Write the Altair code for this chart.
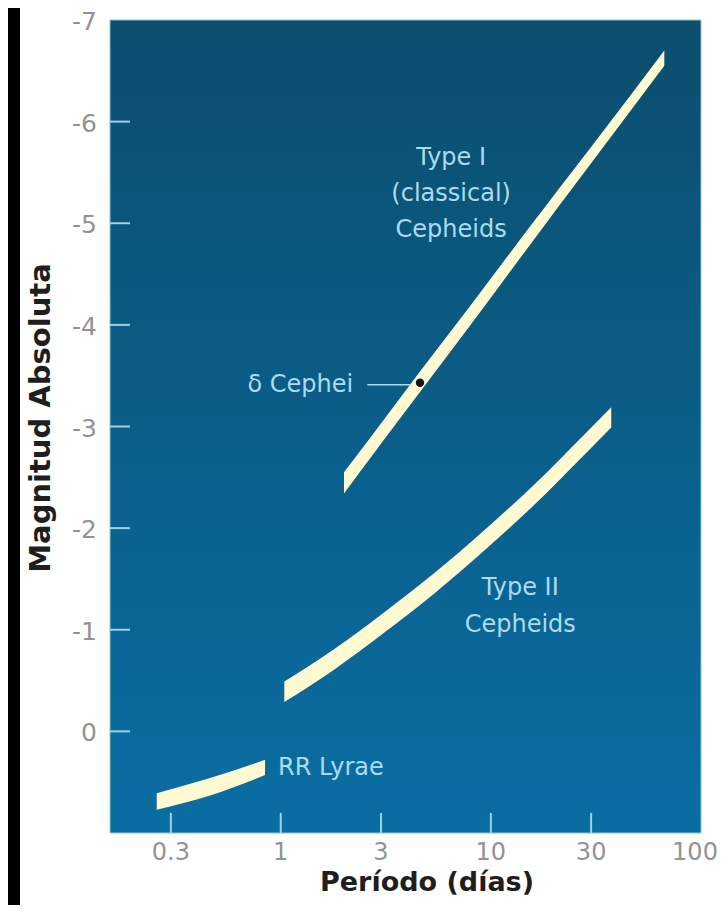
import altair as alt
import pandas as pd

# ---------------- data ----------------
# Type I (classical) Cepheids band: period (days), bright edge, faint edge (abs. mag)
t1_period = [2.0, 3.0, 4.6, 8.0, 15.0, 30.0, 66.9]
t1_bright = [-2.55, -3.03, -3.54, -4.19, -4.94, -5.75, -6.70]
t1_faint = [-2.34, -2.83, -3.34, -4.00, -4.76, -5.59, -6.55]

# Type II Cepheids band
t2_period = [1.04, 1.8, 3.1, 5.4, 9.3, 16.1, 27.8, 37.4]
t2_bright = [-0.49, -0.81, -1.17, -1.56, -1.98, -2.43, -2.92, -3.19]
t2_faint = [-0.29, -0.61, -0.97, -1.36, -1.78, -2.23, -2.72, -2.99]

# RR Lyrae band
rr_period = [0.257, 0.461, 0.842]
rr_bright = [0.61, 0.46, 0.28]
rr_faint = [0.77, 0.63, 0.43]

# delta Cephei marker and its leader line
dcep_period = [4.6]
dcep_mag = [-3.43]
leader_from = [2.58]
leader_to = [4.13]
leader_mag = [-3.41]

# annotation texts
center_labels = ["Type I", "(classical)", "Cepheids", "Type II", "Cepheids"]
center_period = [6.47, 6.47, 6.47, 13.8, 13.8]
center_mag = [-5.575, -5.22, -4.866, -1.343, -0.978]

right_labels = ["\u03b4 Cephei"]
right_period = [2.21]
right_mag = [-3.34]

left_labels = ["RR Lyrae"]
left_period = [0.971]
left_mag = [0.429]

# axes
x_ticks = [0.3, 1, 3, 10, 30, 100]
x_tick_labels = ["0.3", "1", "3", "10", "30", "100"]
x_inner_ticks = [0.3, 1, 3, 10, 30]
y_ticks = [-7, -6, -5, -4, -3, -2, -1, 0]
y_tick_labels = ["-7", "-6", "-5", "-4", "-3", "-2", "-1", "0"]
y_inner_ticks = [-6, -5, -4, -3, -2, -1, 0]
x_title = "Período (días)"
y_title = "Magnitud Absoluta"

# ---------------- styling ----------------
W, H = 591, 813
CREAM = "#fffad2"
TXT = "#abdbef"
TICK = "#9fd2ea"
LABEL_GRAY = "#939393"
TITLE = "#1e1e1e"
FONT = "DejaVu Sans"

xscale = alt.Scale(type="log", domain=[0.154, 100], nice=False)
yscale = alt.Scale(domain=[-7, 1], reverse=True, nice=False, zero=False)


def X(field):
    return alt.X(field, scale=xscale, axis=None)


def Y(field):
    return alt.Y(field, scale=yscale, axis=None)


one = pd.DataFrame({"k": [0]})

# black strip at the left edge of the page (the rest of the page is white)
strip = alt.Chart(one).mark_rect(color="black").encode(
    x=alt.value(-110), x2=alt.value(-90), y=alt.value(-20), y2=alt.value(900)
)

grad = alt.LinearGradient(
    gradient="linear", x1=0, x2=0, y1=0, y2=1,
    stops=[alt.GradientStop(color="#0b4e6e", offset=0),
           alt.GradientStop(color="#0a6ea3", offset=1)],
)
bg = alt.Chart(one).mark_rect(color=grad, stroke="#8cc4dc", strokeWidth=1).encode(
    x=alt.value(0), x2=alt.value(W), y=alt.value(0), y2=alt.value(H)
)

bands_df = pd.concat([
    pd.DataFrame({"band": "I", "P": t1_period, "bright": t1_bright, "faint": t1_faint}),
    pd.DataFrame({"band": "II", "P": t2_period, "bright": t2_bright, "faint": t2_faint}),
    pd.DataFrame({"band": "RR", "P": rr_period, "bright": rr_bright, "faint": rr_faint}),
])
bands = alt.Chart(bands_df).mark_area(color=CREAM, interpolate="monotone").encode(
    x=X("P:Q"), y=Y("bright:Q"), y2="faint:Q", detail="band:N",
)

ytick_layer = alt.Chart(pd.DataFrame({"M": y_inner_ticks})).mark_rule(
    color=TICK, strokeWidth=2
).encode(y=Y("M:Q"), x=alt.value(0), x2=alt.value(20))

xtick_layer = alt.Chart(pd.DataFrame({"P": x_inner_ticks})).mark_rule(
    color=TICK, strokeWidth=2
).encode(x=X("P:Q"), y=alt.value(H), y2=alt.value(H - 20))

# tick labels
ylab = alt.Chart(pd.DataFrame({"M": y_ticks, "t": y_tick_labels})).mark_text(
    align="right", baseline="middle", font=FONT, fontSize=25, color=LABEL_GRAY, dy=2
).encode(y=Y("M:Q"), x=alt.value(-13), text="t:N")

xlab = alt.Chart(pd.DataFrame({"P": x_ticks[:-1], "t": x_tick_labels[:-1]})).mark_text(
    align="center", baseline="alphabetic", font=FONT, fontSize=24, color=LABEL_GRAY
).encode(x=X("P:Q"), y=alt.value(H + 27), text="t:N")

# last label sits at the right edge of the frame: nudge it inside
xlab_last = alt.Chart(pd.DataFrame({"P": x_ticks[-1:], "t": x_tick_labels[-1:]})).mark_text(
    align="center", baseline="alphabetic", font=FONT, fontSize=24, color=LABEL_GRAY, dx=-6
).encode(x=X("P:Q"), y=alt.value(H + 27), text="t:N")

# axis titles
xtitle = alt.Chart(pd.DataFrame({"t": [x_title]})).mark_text(
    align="center", baseline="alphabetic", font=FONT, fontSize=27,
    fontWeight="bold", color=TITLE
).encode(x=alt.value(317), y=alt.value(H + 58), text="t:N")

ytitle = alt.Chart(pd.DataFrame({"t": [y_title]})).mark_text(
    align="center", baseline="middle", font=FONT, fontSize=29,
    fontWeight="bold", color=TITLE, angle=270
).encode(x=alt.value(-69), y=alt.value(398), text="t:N")

leader = alt.Chart(pd.DataFrame({"P": leader_from, "P2": leader_to, "M": leader_mag})).mark_rule(
    color=TXT, strokeWidth=1.5
).encode(x=X("P:Q"), x2="P2:Q", y=Y("M:Q"))

dot = alt.Chart(pd.DataFrame({"P": dcep_period, "M": dcep_mag})).mark_circle(
    color="#151515", size=70, opacity=1
).encode(x=X("P:Q"), y=Y("M:Q"))


def text_layer(labels, periods, mags, align):
    df = pd.DataFrame({"t": labels, "P": periods, "M": mags})
    return alt.Chart(df).mark_text(
        align=align, baseline="alphabetic", font=FONT, fontSize=24, color=TXT
    ).encode(x=X("P:Q"), y=Y("M:Q"), text="t:N")


t_center = text_layer(center_labels, center_period, center_mag, "center")
t_right = text_layer(right_labels, right_period, right_mag, "right")
t_left = text_layer(left_labels, left_period, left_mag, "left")

chart = alt.layer(
    strip, bg, bands, ytick_layer, xtick_layer, leader, dot,
    t_center, t_right, t_left, ylab, xlab, xlab_last, xtitle, ytitle
).properties(
    width=W, height=H,
    padding={"left": 102, "top": 12, "right": 19, "bottom": 72},
    autosize=alt.AutoSizeParams(type="none"),
    background="white",
).configure_view(stroke=None)

chart.save("out.html", embed_options={"renderer": "svg", "actions": False})
